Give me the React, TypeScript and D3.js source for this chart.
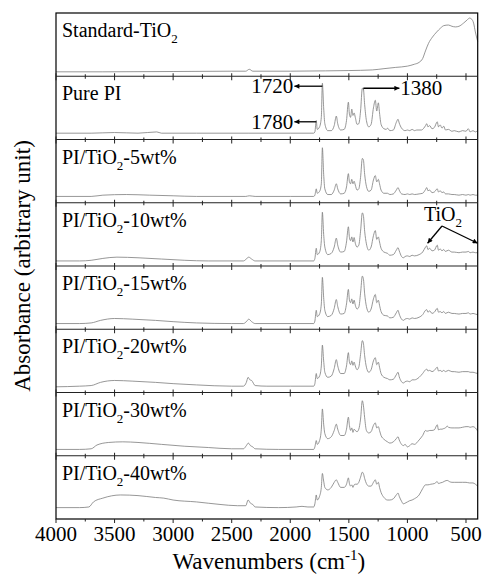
import { useEffect, useRef } from "react";
import * as d3 from "d3";

// panel labels: [before subscript, subscript, after]
const panelLabels: [string, string, string][] = [
  ["Standard-TiO", "2", ""],
  ["Pure PI", "", ""],
  ["PI/TiO", "2", "-5wt%"],
  ["PI/TiO", "2", "-10wt%"],
  ["PI/TiO", "2", "-15wt%"],
  ["PI/TiO", "2", "-20wt%"],
  ["PI/TiO", "2", "-30wt%"],
  ["PI/TiO", "2", "-40wt%"],
];

const xTicks = [4000, 3500, 3000, 2500, 2000, 1500, 1000, 500];
const xMinorTicks = [3750, 3250, 2750, 2250, 1750, 1250, 750];

// [wavenumber, relative absorbance within panel]
const stdTiO2 = [[4000,0.07],[3600,0.07],[3000,0.075],[2500,0.08],[2380,0.08],[2350,0.11],[2320,0.08],[2000,0.08],[1700,0.085],[1500,0.09],[1300,0.1],[1200,0.12],[1100,0.14],[1000,0.16],[940,0.19],[900,0.22],[870,0.28],[846,0.4],[820,0.52],[786,0.62],[750,0.7],[718,0.76],[690,0.8],[650,0.81],[620,0.79],[590,0.78],[560,0.79],[521,0.84],[490,0.89],[470,0.92],[450,0.9],[435,0.84],[420,0.7],[400,0.55]];

const purePI = [[4000,0.1],[3700,0.1],[3500,0.11],[3300,0.1],[3140,0.12],[3100,0.1],[2800,0.1],[2360,0.1],[2000,0.1],[1800,0.1],[1790,0.12],[1778,0.3],[1770,0.16],[1750,0.2],[1735,0.35],[1726,0.89],[1715,0.5],[1705,0.25],[1680,0.14],[1650,0.14],[1625,0.22],[1607,0.37],[1595,0.25],[1570,0.15],[1540,0.16],[1520,0.3],[1504,0.59],[1495,0.4],[1485,0.35],[1475,0.48],[1465,0.38],[1455,0.42],[1445,0.35],[1430,0.24],[1415,0.25],[1400,0.45],[1385,0.81],[1376,0.8],[1365,0.55],[1350,0.3],[1330,0.2],[1310,0.24],[1290,0.5],[1274,0.62],[1262,0.45],[1248,0.58],[1238,0.42],[1225,0.24],[1200,0.17],[1180,0.16],[1170,0.18],[1150,0.14],[1120,0.15],[1095,0.27],[1080,0.32],[1070,0.26],[1050,0.18],[1020,0.14],[1000,0.15],[980,0.14],[960,0.16],[940,0.14],[920,0.15],[880,0.15],[860,0.18],[845,0.22],[835,0.25],[825,0.2],[810,0.22],[790,0.17],[770,0.19],[745,0.28],[735,0.2],[720,0.23],[705,0.18],[690,0.21],[675,0.15],[650,0.16],[620,0.13],[600,0.14],[560,0.12],[530,0.14],[500,0.13],[480,0.17],[465,0.12],[440,0.14],[420,0.12],[400,0.14]];

const pi5 = [[4000,0.1],[3700,0.1],[3600,0.12],[3400,0.13],[3200,0.12],[3000,0.11],[2800,0.1],[2380,0.1],[2350,0.11],[2300,0.1],[2000,0.1],[1800,0.1],[1790,0.12],[1778,0.22],[1770,0.15],[1750,0.18],[1735,0.3],[1726,0.87],[1715,0.45],[1705,0.22],[1680,0.13],[1650,0.13],[1625,0.2],[1607,0.3],[1595,0.22],[1570,0.14],[1540,0.15],[1520,0.25],[1504,0.46],[1495,0.33],[1485,0.3],[1475,0.37],[1465,0.3],[1455,0.34],[1445,0.28],[1430,0.2],[1415,0.22],[1400,0.4],[1385,0.7],[1376,0.68],[1365,0.45],[1350,0.26],[1330,0.18],[1310,0.2],[1290,0.36],[1274,0.43],[1262,0.33],[1248,0.37],[1238,0.3],[1225,0.2],[1200,0.15],[1170,0.15],[1150,0.13],[1120,0.14],[1095,0.2],[1080,0.24],[1070,0.2],[1050,0.14],[1020,0.13],[1000,0.14],[980,0.13],[960,0.14],[940,0.13],[900,0.14],[870,0.15],[845,0.21],[835,0.24],[825,0.19],[810,0.2],[790,0.16],[770,0.17],[745,0.22],[735,0.17],[720,0.19],[705,0.16],[690,0.17],[675,0.14],[650,0.14],[620,0.13],[600,0.13],[560,0.12],[530,0.13],[500,0.12],[480,0.13],[465,0.12],[440,0.13],[420,0.12],[400,0.12]];

const pi10 = [[4000,0.08],[3800,0.08],[3700,0.09],[3600,0.12],[3480,0.14],[3300,0.13],[3100,0.11],[2900,0.09],[2700,0.08],[2400,0.08],[2370,0.12],[2355,0.14],[2330,0.11],[2300,0.08],[2000,0.08],[1800,0.08],[1790,0.12],[1778,0.28],[1770,0.18],[1750,0.22],[1735,0.4],[1726,0.85],[1715,0.5],[1705,0.3],[1680,0.18],[1650,0.2],[1625,0.3],[1607,0.44],[1595,0.33],[1570,0.22],[1540,0.23],[1520,0.38],[1504,0.62],[1495,0.45],[1485,0.4],[1475,0.46],[1465,0.38],[1455,0.45],[1445,0.36],[1430,0.3],[1415,0.33],[1400,0.55],[1385,0.84],[1376,0.8],[1365,0.55],[1350,0.35],[1330,0.25],[1310,0.3],[1290,0.48],[1274,0.56],[1262,0.42],[1248,0.46],[1238,0.38],[1225,0.28],[1200,0.22],[1170,0.2],[1150,0.17],[1120,0.18],[1095,0.25],[1080,0.29],[1070,0.24],[1050,0.15],[1035,0.13],[1020,0.15],[1000,0.16],[980,0.15],[960,0.17],[940,0.16],[900,0.18],[870,0.22],[845,0.3],[835,0.32],[825,0.26],[810,0.28],[790,0.24],[770,0.25],[745,0.33],[735,0.25],[720,0.27],[705,0.24],[690,0.26],[675,0.23],[650,0.25],[620,0.22],[600,0.22],[560,0.21],[530,0.22],[500,0.22],[480,0.23],[465,0.21],[440,0.22],[420,0.21],[400,0.21]];

const pi15 = [[4000,0.09],[3800,0.09],[3700,0.1],[3620,0.14],[3500,0.17],[3350,0.16],[3150,0.14],[3000,0.12],[2800,0.1],[2500,0.09],[2400,0.09],[2370,0.13],[2355,0.16],[2330,0.12],[2300,0.09],[2000,0.09],[1800,0.09],[1790,0.13],[1778,0.3],[1770,0.2],[1750,0.24],[1735,0.4],[1726,0.82],[1715,0.5],[1705,0.3],[1680,0.2],[1650,0.22],[1625,0.33],[1607,0.47],[1595,0.36],[1570,0.24],[1540,0.25],[1520,0.4],[1504,0.63],[1495,0.46],[1485,0.42],[1475,0.48],[1465,0.4],[1455,0.46],[1445,0.38],[1430,0.32],[1415,0.35],[1400,0.57],[1385,0.84],[1376,0.8],[1365,0.56],[1350,0.36],[1330,0.27],[1310,0.32],[1290,0.48],[1274,0.55],[1262,0.42],[1248,0.46],[1238,0.38],[1225,0.28],[1200,0.22],[1170,0.21],[1150,0.18],[1120,0.19],[1095,0.26],[1080,0.3],[1070,0.24],[1050,0.16],[1035,0.14],[1020,0.16],[1000,0.17],[980,0.16],[960,0.18],[940,0.17],[900,0.19],[870,0.23],[845,0.3],[835,0.31],[825,0.27],[810,0.29],[790,0.25],[770,0.27],[745,0.33],[735,0.27],[720,0.28],[705,0.26],[690,0.28],[675,0.25],[650,0.27],[620,0.25],[600,0.25],[560,0.24],[530,0.25],[500,0.25],[480,0.26],[465,0.24],[440,0.25],[420,0.24],[400,0.23]];

const pi20 = [[4000,0.09],[3800,0.1],[3700,0.11],[3620,0.16],[3500,0.19],[3350,0.18],[3150,0.16],[3000,0.14],[2800,0.12],[2500,0.1],[2400,0.1],[2375,0.16],[2360,0.24],[2345,0.2],[2330,0.19],[2300,0.11],[2200,0.1],[2000,0.1],[1800,0.1],[1790,0.14],[1778,0.3],[1770,0.22],[1750,0.26],[1735,0.42],[1726,0.75],[1715,0.5],[1705,0.32],[1680,0.24],[1650,0.26],[1625,0.38],[1607,0.52],[1595,0.42],[1570,0.3],[1540,0.3],[1520,0.42],[1504,0.63],[1495,0.48],[1485,0.44],[1475,0.5],[1465,0.43],[1455,0.48],[1445,0.42],[1430,0.36],[1415,0.4],[1400,0.6],[1385,0.82],[1376,0.78],[1365,0.58],[1350,0.4],[1330,0.32],[1310,0.36],[1290,0.5],[1274,0.55],[1262,0.44],[1248,0.48],[1238,0.4],[1225,0.3],[1200,0.24],[1170,0.22],[1150,0.2],[1120,0.21],[1095,0.28],[1080,0.32],[1070,0.25],[1050,0.17],[1035,0.15],[1020,0.17],[1000,0.18],[980,0.17],[960,0.2],[940,0.2],[900,0.24],[870,0.3],[845,0.36],[835,0.37],[825,0.34],[810,0.35],[790,0.33],[770,0.35],[745,0.4],[735,0.34],[720,0.35],[705,0.33],[690,0.35],[675,0.33],[650,0.35],[620,0.33],[600,0.33],[560,0.32],[530,0.33],[500,0.33],[480,0.33],[465,0.32],[440,0.32],[420,0.31],[400,0.3]];

const pi30 = [[4000,0.1],[3800,0.1],[3700,0.11],[3650,0.17],[3550,0.21],[3430,0.22],[3300,0.21],[3100,0.18],[2900,0.15],[2700,0.13],[2500,0.11],[2400,0.11],[2375,0.16],[2358,0.2],[2340,0.16],[2320,0.14],[2300,0.11],[2100,0.1],[1900,0.1],[1800,0.1],[1790,0.14],[1778,0.24],[1770,0.18],[1750,0.24],[1735,0.42],[1726,0.74],[1715,0.5],[1705,0.35],[1680,0.27],[1650,0.3],[1625,0.4],[1607,0.5],[1595,0.42],[1570,0.32],[1540,0.32],[1520,0.42],[1504,0.61],[1495,0.48],[1485,0.4],[1475,0.44],[1465,0.37],[1455,0.42],[1445,0.4],[1430,0.38],[1415,0.42],[1400,0.58],[1385,0.87],[1376,0.8],[1365,0.6],[1350,0.4],[1330,0.36],[1310,0.38],[1290,0.48],[1274,0.52],[1262,0.44],[1248,0.46],[1238,0.4],[1225,0.32],[1200,0.26],[1170,0.22],[1150,0.2],[1120,0.22],[1095,0.27],[1080,0.3],[1070,0.25],[1050,0.18],[1035,0.16],[1020,0.18],[1000,0.14],[980,0.16],[960,0.19],[940,0.18],[900,0.25],[870,0.32],[845,0.4],[835,0.39],[825,0.39],[810,0.4],[790,0.4],[770,0.41],[745,0.49],[735,0.41],[720,0.42],[705,0.42],[690,0.43],[675,0.44],[660,0.47],[650,0.45],[620,0.44],[600,0.44],[560,0.44],[530,0.45],[500,0.46],[480,0.46],[465,0.45],[440,0.46],[420,0.44],[400,0.39]];

const pi40 = [[4000,0.18],[3800,0.18],[3720,0.19],[3680,0.27],[3600,0.33],[3450,0.38],[3300,0.37],[3150,0.34],[3080,0.33],[3000,0.3],[2800,0.27],[2600,0.23],[2450,0.21],[2380,0.21],[2360,0.3],[2340,0.25],[2320,0.23],[2300,0.19],[2100,0.18],[1950,0.19],[1900,0.2],[1850,0.19],[1800,0.19],[1790,0.24],[1778,0.38],[1770,0.3],[1750,0.36],[1735,0.5],[1726,0.72],[1715,0.6],[1705,0.5],[1680,0.46],[1650,0.5],[1625,0.58],[1607,0.62],[1595,0.58],[1570,0.5],[1540,0.5],[1520,0.55],[1504,0.65],[1495,0.56],[1485,0.52],[1475,0.54],[1465,0.5],[1455,0.54],[1445,0.55],[1430,0.55],[1415,0.58],[1400,0.66],[1385,0.74],[1376,0.72],[1365,0.64],[1350,0.56],[1330,0.52],[1310,0.52],[1290,0.58],[1274,0.62],[1262,0.55],[1248,0.58],[1238,0.5],[1225,0.42],[1200,0.34],[1170,0.3],[1150,0.3],[1120,0.32],[1095,0.38],[1080,0.41],[1070,0.36],[1050,0.28],[1035,0.24],[1020,0.25],[1000,0.27],[980,0.29],[960,0.3],[940,0.32],[900,0.38],[870,0.48],[845,0.54],[825,0.54],[800,0.55],[770,0.56],[745,0.59],[735,0.56],[720,0.57],[700,0.58],[680,0.6],[660,0.61],[640,0.59],[620,0.58],[600,0.58],[560,0.58],[530,0.58],[500,0.58],[470,0.57],[440,0.57],[420,0.55],[400,0.52]];

const spectra = [stdTiO2, purePI, pi5, pi10, pi15, pi20, pi30, pi40];

export default function App() {
  const ref = useRef<SVGSVGElement>(null);

  useEffect(() => {
    const width = 483, height = 574;
    const top = 13, bottom = 519, left = 56, right = 477.7;
    const ph = (bottom - top) / spectra.length;
    const font = "'Liberation Serif', 'DejaVu Serif', serif";
    const lineColor = "#7c7c7c";

    const x = d3.scaleLinear().domain([4000, 400]).range([left, right]);
    const yOf = (i: number) =>
      d3.scaleLinear().domain([0, 1]).range([top + (i + 1) * ph, top + i * ph]);

    const svg = d3.select(ref.current);
    svg.selectAll("*").remove();
    svg.attr("width", width).attr("height", height);

    const defs = svg.append("defs");
    defs.append("marker")
      .attr("id", "ah")
      .attr("viewBox", "0 0 10 10")
      .attr("refX", 10).attr("refY", 5)
      .attr("markerWidth", 7).attr("markerHeight", 5)
      .attr("markerUnits", "userSpaceOnUse")
      .attr("orient", "auto")
      .append("path").attr("d", "M0 0 L10 5 L0 10 Z").attr("fill", "#000");

    // spectra
    spectra.forEach((data, i) => {
      const y = yOf(i);
      const line = d3.line<number[]>()
        .x(d => x(d[0]))
        .y(d => y(d[1]))
        .curve(d3.curveMonotoneX);
      svg.append("path")
        .attr("d", line(data) as string)
        .attr("fill", "none")
        .attr("stroke", lineColor)
        .attr("stroke-width", 0.8);

      const lab = svg.append("text")
        .attr("x", left + 6)
        .attr("y", top + i * ph + 24)
        .attr("font-family", font)
        .attr("font-size", 20)
        .attr("fill", "#000");
      const [a, sub, b] = panelLabels[i];
      lab.append("tspan").text(a);
      if (sub) {
        lab.append("tspan").attr("dy", 6).attr("font-size", 13).text(sub);
        lab.append("tspan").attr("dy", -6).text(b);
      }
    });

    // frame and separators
    svg.append("rect")
      .attr("x", left).attr("y", top)
      .attr("width", right - left).attr("height", bottom - top)
      .attr("fill", "none").attr("stroke", "#000").attr("stroke-width", 1.2);
    for (let i = 1; i < spectra.length; i++) {
      const yy = top + i * ph;
      svg.append("line")
        .attr("x1", left).attr("x2", right).attr("y1", yy).attr("y2", yy)
        .attr("stroke", "#222").attr("stroke-width", 1.2);
    }

    // ticks on every separator and on the bottom axis
    for (let i = 1; i <= spectra.length; i++) {
      const yy = top + i * ph;
      const last = i === spectra.length;
      xTicks.forEach(t => {
        svg.append("line")
          .attr("x1", x(t)).attr("x2", x(t))
          .attr("y1", last ? yy : yy - 3).attr("y2", yy + 4)
          .attr("stroke", "#222").attr("stroke-width", 1);
      });
      xMinorTicks.forEach(t => {
        svg.append("line")
          .attr("x1", x(t)).attr("x2", x(t))
          .attr("y1", last ? yy : yy - 2).attr("y2", yy + 2.5)
          .attr("stroke", "#222").attr("stroke-width", 1);
      });
    }

    // x tick labels
    svg.append("g").selectAll("text").data(xTicks).join("text")
      .attr("x", d => x(d)).attr("y", 541)
      .attr("text-anchor", "middle")
      .attr("font-family", font).attr("font-size", 21)
      .text(d => d);

    // axis titles
    const xt = svg.append("text")
      .attr("x", (left + right) / 2 + 2).attr("y", 569)
      .attr("text-anchor", "middle")
      .attr("font-family", font).attr("font-size", 23);
    xt.append("tspan").text("Wavenumbers (cm");
    xt.append("tspan").attr("dy", -9).attr("font-size", 15).text("-1");
    xt.append("tspan").attr("dy", 9).text(")");

    svg.append("text")
      .attr("transform", `translate(30, ${(top + bottom) / 2}) rotate(-90)`)
      .attr("text-anchor", "middle")
      .attr("font-family", font).attr("font-size", 23)
      .text("Absorbance (arbitrary unit)");

    // annotations on Pure PI
    const yPI = yOf(1);
    const arrow = (x1: number, y1: number, x2: number, y2: number) =>
      svg.append("line")
        .attr("x1", x1).attr("y1", y1).attr("x2", x2).attr("y2", y2)
        .attr("stroke", "#000").attr("stroke-width", 1.3)
        .attr("marker-end", "url(#ah)");
    const note = (tx: number, ty: number, s: string, anchor: string) =>
      svg.append("text")
        .attr("x", tx).attr("y", ty).attr("text-anchor", anchor)
        .attr("font-family", font).attr("font-size", 21).text(s);

    const y1720 = yPI(0.89) + 3;
    arrow(x(1726), y1720, x(1726) - 28, y1720);
    note(x(1726) - 29, y1720 + 7, "1720", "end");

    const y1780 = yPI(0.28);
    arrow(x(1778), y1780, x(1726) - 28, y1780);
    note(x(1726) - 29, y1780 + 7, "1780", "end");

    const y1380 = yPI(0.81);
    svg.append("line")
      .attr("x1", x(1376)).attr("x2", x(1376))
      .attr("y1", y1380).attr("y2", yPI(0.78))
      .attr("stroke", lineColor);
    arrow(x(1376), y1380, x(1376) + 36, y1380);
    note(x(1376) + 37, y1380 + 7, "1380", "start");

    // TiO2 annotation on 10wt%
    const y10 = yOf(3);
    const ax = 442, ay = 226;
    arrow(ax, ay, x(845) + 2, y10(0.36));
    arrow(ax, ay, right, y10(0.36));
    const tt = svg.append("text")
      .attr("x", 424).attr("y", 221)
      .attr("font-family", font).attr("font-size", 20);
    tt.append("tspan").text("TiO");
    tt.append("tspan").attr("dy", 6).attr("font-size", 13).text("2");
  }, []);

  return (
    <svg ref={ref} style={{ position: "absolute", left: 0, top: 0, background: "#fff" }} />
  );
}
